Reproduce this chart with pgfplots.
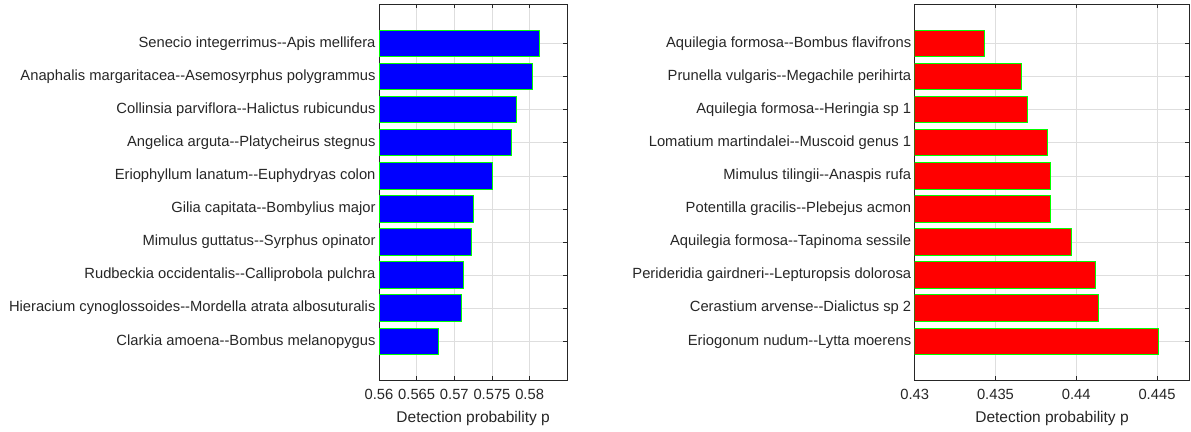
\documentclass[border=0pt]{standalone}
\usepackage{pgfplots}
\pgfplotsset{compat=1.18}
\usepackage{fontspec}
\setmainfont{Liberation Sans}
\definecolor{axc}{gray}{0.15}
\definecolor{grc}{gray}{0.87}
\pgfplotsset{mystyle/.style={
  xbar, scale only axis, height=376pt,
  ymin=-1.17, ymax=10.19, ytick={0,...,9}, bar width=0.8,
  xmajorgrids, ymajorgrids, grid style={grc, line width=0.5pt},
  axis line style={axc, line width=0.6pt}, tick style={axc, line width=0.5pt},
  major tick length=4pt, tick align=inside,
  ticklabel style={font=\fontsize{14.75}{17}\selectfont, text=axc},
  label style={font=\fontsize{15.5}{18}\selectfont, text=axc},
  xticklabel style={/pgf/number format/fixed, /pgf/number format/precision=3,
     /pgf/number format/assume math mode=true, yshift=-6pt},
  scaled x ticks=false,
  xlabel={Detection probability p},
  xlabel style={yshift=-4pt},
  anchor=south west,
}}
\begin{document}
\begin{tikzpicture}
\useasboundingbox (0pt,0pt) rectangle (1191pt,431pt);
\begin{axis}[mystyle, at={(379pt,51pt)}, width=188.3pt,
  xmin=0.56, xmax=0.585, xtick={0.56,0.565,0.57,0.575,0.58},
  yticklabels={Clarkia amoena-{}-Bombus melanopygus,
    Hieracium cynoglossoides-{}-Mordella atrata albosuturalis,
    Rudbeckia occidentalis-{}-Calliprobola pulchra,
    Mimulus guttatus-{}-Syrphus opinator,
    Gilia capitata-{}-Bombylius major,
    Eriophyllum lanatum-{}-Euphydryas colon,
    Angelica arguta-{}-Platycheirus stegnus,
    Collinsia parviflora-{}-Halictus rubicundus,
    Anaphalis margaritacea-{}-Asemosyrphus polygrammus,
    Senecio integerrimus-{}-Apis mellifera}]
\addplot[fill=blue, draw=green, line width=0.9pt] coordinates {
(0.5679,0) (0.5710,1) (0.5712,2) (0.5723,3) (0.5725,4)
(0.5750,5) (0.5776,6) (0.5783,7) (0.5804,8) (0.5813,9)};
\end{axis}
\begin{axis}[mystyle, at={(914.7pt,51pt)}, width=274.6pt,
  xmin=0.43, xmax=0.447, xtick={0.43,0.435,0.44,0.445},
  yticklabels={Eriogonum nudum-{}-Lytta moerens,
    Cerastium arvense-{}-Dialictus sp 2,
    Perideridia gairdneri-{}-Lepturopsis dolorosa,
    Aquilegia formosa-{}-Tapinoma sessile,
    Potentilla gracilis-{}-Plebejus acmon,
    Mimulus tilingii-{}-Anaspis rufa,
    Lomatium martindalei-{}-Muscoid genus 1,
    Aquilegia formosa-{}-Heringia sp 1,
    Prunella vulgaris-{}-Megachile perihirta,
    Aquilegia formosa-{}-Bombus flavifrons}]
\addplot[fill=red, draw=green, line width=0.9pt] coordinates {
(0.4451,0) (0.4414,1) (0.4412,2) (0.4397,3) (0.4384,4)
(0.4384,5) (0.4382,6) (0.4370,7) (0.4366,8) (0.4343,9)};
\end{axis}
\end{tikzpicture}
\end{document}
